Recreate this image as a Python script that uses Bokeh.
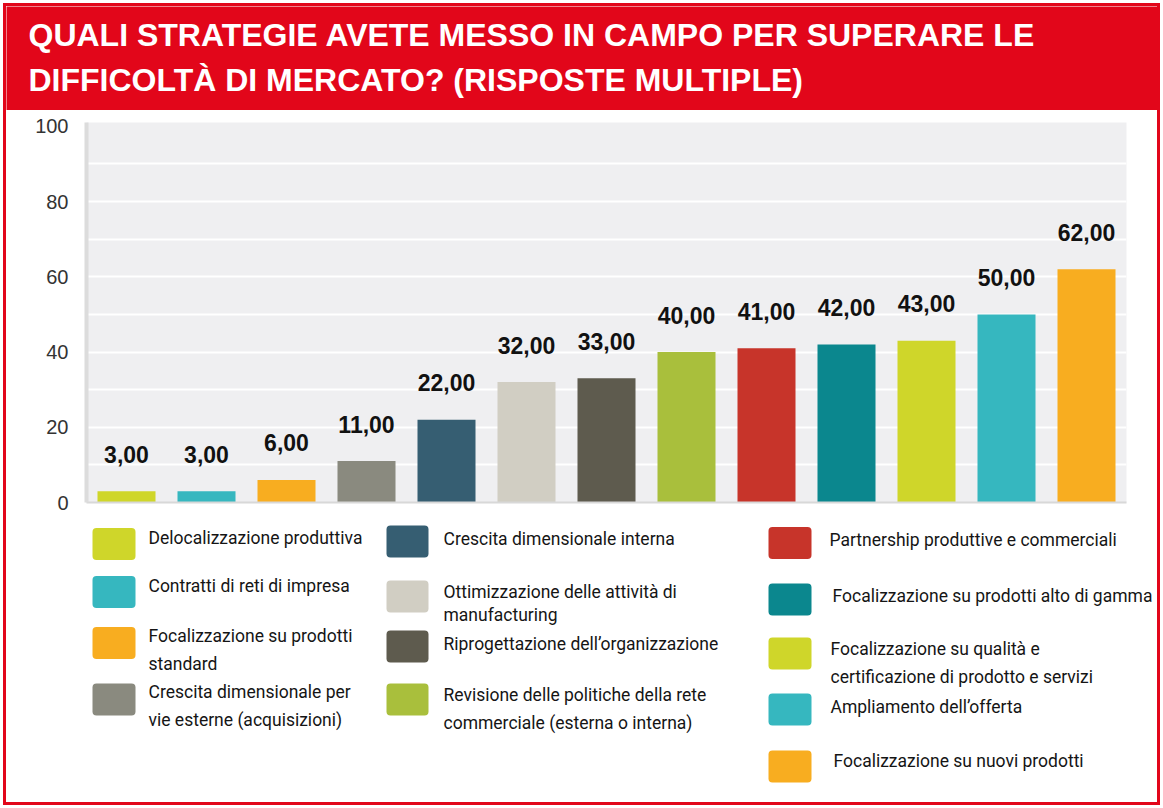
from bokeh.plotting import figure
from bokeh.layouts import column
from bokeh.models import Range1d, FixedTicker, ColumnDataSource
from bokeh.core.properties import value
from bokeh.embed import file_html
from bokeh.resources import INLINE

# ---------------- data ----------------
title_text = ("QUALI STRATEGIE AVETE MESSO IN CAMPO PER SUPERARE LE\n"
              "DIFFICOLTÀ DI MERCATO? (RISPOSTE MULTIPLE)")

categories = [
    "Delocalizzazione produttiva",
    "Contratti di reti di impresa",
    "Focalizzazione su prodotti\nstandard",
    "Crescita dimensionale per\nvie esterne (acquisizioni)",
    "Crescita dimensionale interna",
    "Ottimizzazione delle attività di\nmanufacturing",
    "Riprogettazione dell’organizzazione",
    "Revisione delle politiche della rete\ncommerciale (esterna o interna)",
    "Partnership produttive e commerciali",
    "Focalizzazione su prodotti alto di gamma",
    "Focalizzazione su qualità e\ncertificazione di prodotto e servizi",
    "Ampliamento dell’offerta",
    "Focalizzazione su nuovi prodotti",
]
values = [3, 3, 6, 11, 22, 32, 33, 40, 41, 42, 43, 50, 62]
colors = ["#CFD62A", "#36B7BF", "#F8AD20", "#8A8A7F", "#365E72", "#D1CEC3",
          "#5E5B4E", "#A9BF3C", "#C7342A", "#0B878E", "#CFD62A", "#36B7BF", "#F8AD20"]
value_labels = [f"{v:.2f}".replace(".", ",") for v in values]
y_ticks = [0, 20, 40, 60, 80, 100]
grid_ticks = [10, 20, 30, 40, 50, 60, 70, 80, 90]

# ---------------- layout constants (page px) ----------------
W = 1151
RED = "#E2061A"
X0, X1 = 6, 1157             # inner page x extent of each figure
leg_col_sq = [(92, 135), (386, 428), (768, 811)]
# column index, square centre y, text x, text centre y, line-height group
leg_pos = [
    (0, 543.5, 148, 537, 0), (0, 591.5, 148, 585, 0), (0, 642.5, 148, 649, 0),
    (0, 699, 148, 705, 0),
    (1, 541, 443, 538, 0), (1, 596, 443, 603, 1), (1, 646, 443, 643.5, 0),
    (1, 699, 443, 708, 0),
    (2, 542.5, 829, 539, 0), (2, 599, 832, 595.5, 0), (2, 653, 830, 662.5, 0),
    (2, 709, 830, 706.5, 0), (2, 766, 833, 760, 0),
]


def no_align(f):
    try:
        f.frame_align = False
    except Exception:
        pass
    return f


def blank(height, y0, y1, fill):
    f = figure(width=W, height=height, x_range=Range1d(X0, X1), y_range=Range1d(y1, y0),
               x_axis_type=None, y_axis_type=None, min_border=0,
               output_backend="svg", toolbar_location=None,
               background_fill_color=fill, border_fill_color=fill, outline_line_color=None)
    f.grid.visible = False
    return no_align(f)


# ---------------- header ----------------
head = blank(104, 6, 110, RED)
head.text(x=[28], y=[56.5], text=[title_text], text_color="white",
          text_font=value("Liberation Sans"), text_font_style="bold",
          text_font_size="32px", text_baseline="middle", text_align="left",
          text_line_height=1.25)

# ---------------- chart ----------------
xs = list(range(len(values)))
src = ColumnDataSource(dict(x=xs, top=values, color=colors, lab=value_labels))
p = figure(width=W, height=405, x_range=Range1d(-0.5, 12.5), y_range=Range1d(0, 101),
           output_backend="svg", toolbar_location=None,
           min_border_left=80, min_border_right=31, min_border_top=12, min_border_bottom=13,
           background_fill_color="#EFEFF1", border_fill_color="white", outline_line_color=None)
no_align(p)
p.vbar(x="x", top="top", width=0.725, fill_color="color", line_color=None, source=src)
p.text(x="x", y="top", text="lab", source=src, y_offset=-37, text_align="center",
       text_baseline="alphabetic", text_font=value("Liberation Sans"), text_font_style="bold",
       text_font_size="23px", text_color="#111111")

p.xgrid.visible = False
p.ygrid.ticker = FixedTicker(ticks=grid_ticks)
p.ygrid.grid_line_color = "white"
p.ygrid.grid_line_width = 2

p.xaxis.ticker = FixedTicker(ticks=[])
p.xaxis.axis_line_color = "#D8D8D8"
p.xaxis.axis_line_width = 2
p.xaxis.major_tick_line_color = None
p.xaxis.minor_tick_line_color = None

p.yaxis.ticker = FixedTicker(ticks=y_ticks)
p.yaxis.axis_line_color = "#DCDCDC"
p.yaxis.axis_line_width = 4
p.yaxis.major_tick_line_color = None
p.yaxis.minor_tick_line_color = None
p.yaxis.major_label_text_font = "Liberation Sans"
p.yaxis.major_label_text_font_size = "20px"
p.yaxis.major_label_text_color = "#333333"
p.yaxis.major_label_standoff = 12

# ---------------- legend ----------------
leg = blank(287, 515, 802, "white")
sq = dict(left=[], right=[], top=[], bottom=[], color=[])
groups = {0: dict(x=[], y=[], t=[]), 1: dict(x=[], y=[], t=[])}
for (ci, scy, tx, ty, g), lab, col in zip(leg_pos, categories, colors):
    x0, x1 = leg_col_sq[ci]
    sq["left"].append(x0); sq["right"].append(x1)
    sq["top"].append(scy - 16); sq["bottom"].append(scy + 16)
    sq["color"].append(col)
    groups[g]["x"].append(tx); groups[g]["y"].append(ty); groups[g]["t"].append(lab)
leg.quad(left="left", right="right", top="top", bottom="bottom", fill_color="color",
         line_color=None, border_radius=4, source=ColumnDataSource(sq))
for g, lh in ((0, 1.4), (1, 1.17)):
    leg.text(x="x", y="y", text="t", source=ColumnDataSource(groups[g]),
             text_font=value("Roboto"), text_font_size="17.5px",
             text_color="#151515", text_baseline="middle", text_align="left",
             text_line_height=lh)

layout = column(column(head), column(p), column(leg), spacing=0,
                styles={"border": f"3px solid {RED}", "margin": "3px 0 0 3px"})
open("out.html", "w").write(file_html(layout, INLINE))
